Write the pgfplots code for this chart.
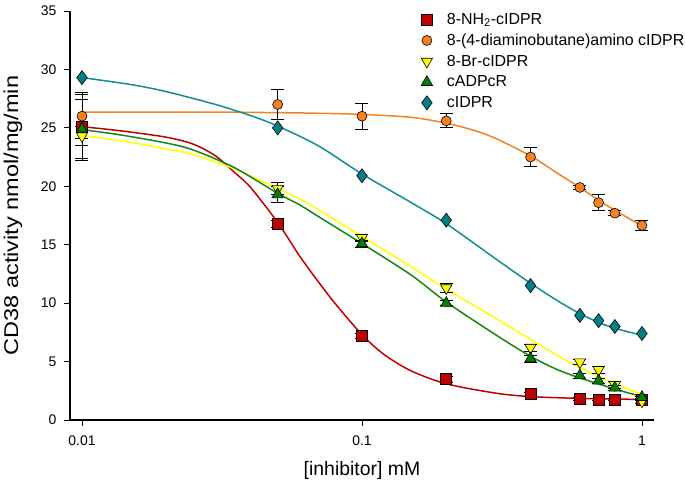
\documentclass[border=0pt]{standalone}
\usepackage{fontspec}
\setmainfont{Liberation Sans}
\usepackage{graphicx}
\usepackage{pgfplots}
\usepackage{pgfplotstable}
\pgfplotsset{compat=1.18}

\definecolor{cred}{RGB}{192,0,0}
\definecolor{corange}{RGB}{245,130,32}
\definecolor{cyellow}{RGB}{255,255,0}
\definecolor{cgreen}{RGB}{0,128,0}
\definecolor{cteal}{RGB}{0,128,134}
\definecolor{ltgreen}{RGB}{20,135,20}
\definecolor{ltteal}{RGB}{20,140,150}

% measured points: x  y  error
\pgfplotstableread{
x y e
0.01 25.1 2.9
0.05 16.8 0.3
0.1 7.2 0.25
0.2 3.5 0.25
0.4 2.2 0.2
0.6 1.8 0.1
0.7 1.75 0.1
0.8 1.75 0.1
1.0 1.75 0.1
}\nhtwo
\pgfplotstableread{
x y e
0.01 26.0 1.9
0.05 27.0 1.3
0.1 26.0 1.1
0.2 25.6 0.6
0.4 22.5 0.8
0.6 19.9 0.2
0.7 18.6 0.7
0.8 17.7 0.2
1.0 16.65 0.45
}\diamino
\pgfplotstableread{
x y e
0.01 24.3 0.8
0.05 19.8 0.5
0.1 15.6 0.3
0.2 11.3 0.4
0.4 6.2 0.3
0.6 4.95 0.2
0.7 4.3 0.3
0.8 3.0 0.3
1.0 1.6 0.2
}\brom
\pgfplotstableread{
x y e
0.01 24.9 2.5
0.05 19.3 0.7
0.1 15.1 0.3
0.2 10.0 0.2
0.4 5.25 0.3
0.6 3.8 0.2
0.7 3.35 0.2
0.8 2.75 0.2
1.0 1.95 0.1
}\cadpcr
\pgfplotstableread{
x y e
0.01 29.3 0
0.05 25.0 0
0.1 20.9 0
0.2 17.1 0
0.4 11.5 0
0.6 8.95 0
0.7 8.5 0
0.8 8.0 0
1.0 7.4 0
}\cidpr

\begin{document}
\begin{tikzpicture}
\begin{axis}[
  scale only axis,
  width=584bp, height=409bp,
  xmode=log,
  xmin=0.00906, xmax=1.104,
  ymin=0, ymax=35,
  axis x line=bottom, axis y line=left,
  axis line style={-, line width=1.1bp},
  xtick={0.01,0.1,1}, xticklabels={0.01,0.1,1},
  xminorticks=false,
  ytick={0,5,...,35},
  tick align=outside,
  major tick length=6bp,
  tick style={black, line width=0.9bp},
  /pgf/number format/assume math mode=true,
  ticklabel style={font=\fontsize{14}{14}\selectfont},
  xticklabel style={yshift=-6bp},
  yticklabel style={xshift=-4bp},
  xlabel={[inhibitor] mM},
  ylabel={\scalebox{1.18}[1]{CD38 activity nmol/mg/min}},
  every axis x label/.style={at={(axis description cs:0.5,0)}, yshift=-50bp, anchor=center, font=\fontsize{19.5}{19.5}\selectfont},
  every axis y label/.style={at={(axis description cs:0,0.5)}, xshift=-57bp, rotate=90, anchor=center, font=\fontsize{20}{20}\selectfont},
  legend style={draw=none, fill=none, at={(axis description cs:0.592,1.005)}, anchor=north west,
    font=\fontsize{16}{17}\selectfont, row sep=4.2bp},
  legend cell align=left,
  legend image code/.code={\path[draw=none, fill=none] (0bp,0bp) (26bp,0bp); \draw[#1] plot coordinates {(8bp,0bp)};},
]

% fitted curves
\addplot[cred, line width=1.5bp, smooth, forget plot] coordinates {
(0.01,25.1) (0.0137,24.75) (0.02,24.2) (0.025,23.6) (0.03,22.6) (0.035,21.2) (0.04,19.9)
(0.05,16.9) (0.06,14.0) (0.07,11.8) (0.08,10.0) (0.1,7.3) (0.12,5.6) (0.15,4.2)
(0.2,3.1) (0.3,2.3) (0.4,2.0) (0.6,1.85) (0.8,1.8) (1,1.75)};
\addplot[corange, line width=1.5bp, smooth, forget plot] coordinates {
(0.01,26.35) (0.03,26.35) (0.05,26.3) (0.07,26.25) (0.1,26.15) (0.15,25.9) (0.2,25.4)
(0.25,24.8) (0.3,24.1) (0.4,22.6) (0.5,21.1) (0.6,19.9) (0.7,18.8) (0.8,17.95) (1,16.6)};
\addplot[cyellow, line width=1.5bp, smooth, forget plot] coordinates {
(0.01,24.35) (0.0137,23.9) (0.02,23.2) (0.025,22.7) (0.035,21.5) (0.05,19.8) (0.06,18.9)
(0.07,18.0) (0.1,15.7) (0.15,13.1) (0.2,11.2) (0.3,8.7) (0.4,6.9) (0.5,5.5) (0.6,4.5)
(0.8,3.1) (1,2.2)};
\addplot[ltgreen, line width=1.5bp, smooth, forget plot] coordinates {
(0.01,24.85) (0.0137,24.4) (0.02,23.7) (0.025,23.1) (0.035,21.6) (0.05,19.4) (0.06,18.4)
(0.07,17.4) (0.1,15.1) (0.15,12.4) (0.2,10.1) (0.3,7.3) (0.4,5.45) (0.5,4.3) (0.6,3.6)
(0.8,2.65) (1,2.0)};
\addplot[ltteal, line width=1.5bp, smooth, forget plot] coordinates {
(0.01,29.3) (0.015,28.7) (0.02,28.1) (0.03,27.0) (0.04,26.05) (0.05,25.15) (0.07,23.45)
(0.1,21.05) (0.15,18.6) (0.2,16.8) (0.3,13.8) (0.4,11.7) (0.5,10.2) (0.6,9.1) (0.7,8.35)
(0.8,7.85) (1,7.25)};

% measured points with error bars
\addplot[only marks, mark=square*, mark size=5.5bp,
  mark options={fill=cred, draw=black, line width=0.6bp},
  error bars/.cd, y dir=both, y explicit,
  error bar style={black, line width=0.8bp},
  error mark options={rotate=90, black, mark size=6.5bp, line width=0.8bp}]
  table[x=x, y=y, y error=e] {\nhtwo};
\addlegendentry{8-NH\textsubscript{2}-cIDPR}
\addplot[only marks, mark=*, mark size=5bp,
  mark options={fill=corange, draw=black, line width=0.6bp},
  error bars/.cd, y dir=both, y explicit,
  error bar style={black, line width=0.8bp},
  error mark options={rotate=90, black, mark size=6.5bp, line width=0.8bp}]
  table[x=x, y=y, y error=e] {\diamino};
\addlegendentry{8-(4-diaminobutane)amino cIDPR}
\addplot[only marks, mark=triangle*, mark size=6.5bp,
  mark options={rotate=180, fill=cyellow, draw=black, line width=0.6bp},
  error bars/.cd, y dir=both, y explicit,
  error bar style={black, line width=0.8bp},
  error mark options={rotate=90, black, mark size=6.5bp, line width=0.8bp}]
  table[x=x, y=y, y error=e] {\brom};
\addlegendentry{8-Br-cIDPR}
\addplot[only marks, mark=triangle*, mark size=6.5bp,
  mark options={fill=cgreen, draw=black, line width=0.6bp},
  error bars/.cd, y dir=both, y explicit,
  error bar style={black, line width=0.8bp},
  error mark options={rotate=90, black, mark size=6.5bp, line width=0.8bp}]
  table[x=x, y=y, y error=e] {\cadpcr};
\addlegendentry{cADPcR}
\addplot[only marks, mark=diamond*, mark size=7bp,
  mark options={fill=cteal, draw=black, line width=0.6bp}]
  table[x=x, y=y] {\cidpr};
\addlegendentry{cIDPR}
\end{axis}
\pgfresetboundingbox
\path[use as bounding box] (-70bp,-74bp) rectangle (615bp,420bp);
\end{tikzpicture}
\end{document}
